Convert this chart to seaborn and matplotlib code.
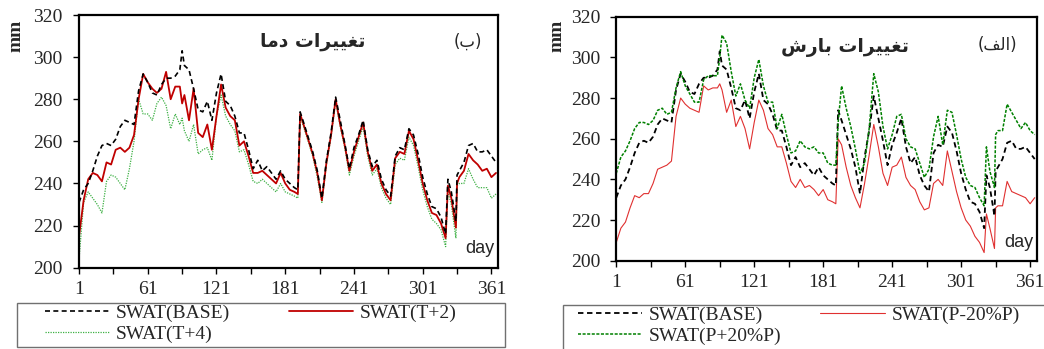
import matplotlib
matplotlib.use("Agg")
import matplotlib.pyplot as plt
import seaborn as sns
from matplotlib.patches import Rectangle
from matplotlib.ticker import FixedLocator

# ---------------- data ----------------
days = [1, 5, 9, 13, 17, 21, 25, 29, 33, 37, 41, 45, 49, 53, 57, 61, 65, 69, 73, 77,
        81, 85, 89, 91, 93, 97, 101, 105, 109, 113, 117, 121, 125, 129, 133, 137, 141,
        145, 149, 153, 157, 161, 165, 169, 173, 177, 181, 185, 189, 192, 194, 197, 201,
        205, 209, 213, 217, 221, 225, 229, 233, 237, 241, 245, 249, 253, 257, 261, 265,
        269, 273, 277, 281, 285, 289, 293, 297, 301, 305, 309, 313, 317, 321, 323, 326,
        330, 331, 333, 337, 341, 345, 349, 353, 357, 361, 365]

swat_base = [231, 237, 240, 246, 253, 258, 259, 258, 261, 267, 270, 269, 268, 284, 292, 288,
             283, 282, 287, 290, 290, 291, 294, 303, 296, 294, 285, 275, 274, 279, 270, 283,
             292, 279, 277, 272, 264, 264, 256, 247, 251, 246, 248, 245, 242, 246, 242, 240,
             238, 237, 274, 269, 262, 255, 246, 233, 251, 264, 281, 270, 259, 247, 257, 263,
             270, 256, 248, 251, 242, 237, 234, 253, 257, 256, 266, 263, 254, 243, 235, 229,
             228, 224, 216, 242, 236, 222, 244, 246, 250, 258, 259, 255, 255, 256, 253, 250]

swat_t2 = [215, 232, 242, 245, 244, 241, 250, 249, 256, 257, 255, 257, 263, 280, 292, 288,
           285, 283, 285, 293, 280, 286, 286, 278, 282, 270, 285, 264, 262, 268, 256, 272,
           287, 276, 272, 270, 258, 260, 253, 245, 245, 246, 244, 242, 240, 245, 240, 237,
           236, 235, 273, 268, 261, 254, 245, 232, 250, 263, 280, 268, 258, 246, 255, 262,
           269, 255, 246, 249, 240, 235, 232, 252, 255, 254, 265, 261, 251, 240, 232, 226,
           225, 221, 214, 239, 233, 219, 240, 243, 246, 254, 251, 249, 246, 247, 243, 245]

swat_t4 = [204, 231, 236, 233, 230, 226, 241, 244, 243, 240, 237, 247, 260, 280, 273, 273,
           270, 278, 281, 277, 266, 273, 268, 271, 265, 260, 268, 254, 256, 257, 251, 272,
           282, 272, 268, 265, 255, 256, 249, 241, 240, 242, 240, 238, 236, 240, 236, 235,
           234, 233, 272, 267, 260, 253, 243, 231, 249, 262, 279, 267, 257, 244, 253, 260,
           267, 253, 244, 247, 238, 233, 230, 249, 252, 251, 262, 258, 248, 237, 229, 223,
           221, 218, 210, 236, 230, 214, 239, 240, 240, 247, 242, 238, 238, 238, 233, 235]

swat_p_minus = [209, 216, 219, 226, 232, 231, 233, 233, 238, 245, 246, 247, 249, 271, 280, 277,
                275, 274, 273, 286, 284, 285, 285, 287, 284, 273, 279, 266, 271, 265, 255, 268,
                279, 274, 265, 262, 256, 256, 248, 239, 236, 240, 236, 237, 235, 232, 235, 230,
                229, 228, 260, 257, 246, 237, 231, 226, 238, 252, 267, 256, 243, 237, 246, 247,
                251, 241, 237, 235, 229, 225, 226, 238, 240, 237, 254, 244, 234, 226, 220, 217,
                212, 209, 204, 223, 216, 206, 226, 227, 227, 239, 234, 233, 232, 231, 228, 231]

swat_p_plus = [243, 251, 254, 259, 265, 268, 268, 267, 269, 274, 275, 272, 273, 285, 293, 286,
               282, 278, 278, 289, 291, 291, 291, 300, 311, 307, 293, 281, 287, 279, 275, 290,
               299, 286, 278, 278, 265, 272, 262, 253, 254, 259, 256, 255, 256, 253, 253, 248,
               247, 247, 268, 286, 275, 266, 255, 243, 248, 265, 292, 283, 266, 255, 262, 271,
               272, 260, 256, 255, 248, 241, 245, 261, 271, 257, 274, 273, 262, 250, 241, 237,
               236, 231, 227, 256, 244, 236, 262, 264, 264, 277, 273, 269, 265, 268, 264, 262]

x_major = [1, 61, 121, 181, 241, 301, 361]
x_minor = [31, 91, 151, 211, 271, 331]
y_ticks = [200, 220, 240, 260, 280, 300, 320]

labels_left = ["SWAT(BASE)", "SWAT(T+2)", "SWAT(T+4)"]
labels_right = ["SWAT(BASE)", "SWAT(P-20%P)", "SWAT(P+20%P)"]

# Persian titles (presentation forms, visual order)
title_left = "\uFE8E\uFEE3\uFEA9 \uFE95\uFE8D\uFEAE\uFEF4\uFEF4\uFED0\uFE97"      # تغییرات دما
title_right = "\uFEB5\uFEAD\uFE8E\uFE91 \uFE95\uFE8D\uFEAE\uFEF4\uFEF4\uFED0\uFE97"  # تغییرات بارش
tag_left = "(\uFE8F)"              # (ب)
tag_right = "(\uFED2\uFEDF\uFE8D)"  # (الف)

# ---------------- style ----------------
sns.set_theme(style="white")
plt.rcParams['font.family'] = ['Liberation Serif', 'DejaVu Sans']

FS = 14
fig = plt.figure(figsize=(10.44, 3.49), dpi=100)
axL = fig.add_axes([0.0757, 0.233, 0.4016, 0.724])
axR = fig.add_axes([0.5903, 0.253, 0.403, 0.699])

# left panel: temperature change
sns.lineplot(x=days, y=swat_t4, ax=axL, color="#3cb043", lw=0.9,
             linestyle=(0, (1, 1)), label=labels_left[2], legend=False)
sns.lineplot(x=days, y=swat_t2, ax=axL, color="#c00000", lw=1.3,
             linestyle="-", label=labels_left[1], legend=False)
sns.lineplot(x=days, y=swat_base, ax=axL, color="black", lw=1.2,
             linestyle=(0, (3, 2)), label=labels_left[0], legend=False)

# right panel: precipitation change
sns.lineplot(x=days, y=swat_p_minus, ax=axR, color="#e03030", lw=0.8,
             linestyle="-", label=labels_right[1], legend=False)
sns.lineplot(x=days, y=swat_base, ax=axR, color="black", lw=1.3,
             linestyle=(0, (3, 2)), label=labels_right[0], legend=False)
sns.lineplot(x=days, y=swat_p_plus, ax=axR, color="#008000", lw=1.1,
             linestyle=(0, (2, 1)), label=labels_right[2], legend=False)

for ax, xpad, ypad in ((axL, 5.5, 8), (axR, 5.5, 7.5)):
    ax.set_xlim(1, 367)
    ax.set_ylim(200, 320)
    ax.xaxis.set_major_locator(FixedLocator(x_major))
    ax.xaxis.set_minor_locator(FixedLocator(x_minor))
    ax.yaxis.set_major_locator(FixedLocator(y_ticks))
    ax.set_xlabel("")
    ax.set_ylabel("")
    ax.grid(False)
    for sp in ax.spines.values():
        sp.set_visible(True)
        sp.set_color("black")
        sp.set_linewidth(1.6)
    ax.tick_params(axis="both", which="both", direction="out", length=4, width=1,
                   color="black", bottom=True, left=True, top=False, right=False)
    ax.tick_params(axis="x", which="major", labelsize=FS, pad=xpad)
    ax.tick_params(axis="y", which="major", labelsize=FS, pad=ypad)
    for lab in ax.get_xticklabels() + ax.get_yticklabels():
        lab.set_fontfamily("Liberation Serif")
    ax.text(0.957, 0.074, "day", transform=ax.transAxes, ha="center", va="center",
            fontsize=13, family="Liberation Sans")

axL.text(0.558, 0.897, title_left, transform=axL.transAxes, ha="center", va="center",
         fontsize=13.5, fontweight="bold", family="DejaVu Sans")
axL.text(0.928, 0.893, tag_left, transform=axL.transAxes, ha="center", va="center",
         fontsize=12, family="DejaVu Sans")
axR.text(0.5436, 0.872, title_right, transform=axR.transAxes, ha="center", va="center",
         fontsize=13.5, fontweight="bold", family="DejaVu Sans")
axR.text(0.907, 0.884, tag_right, transform=axR.transAxes, ha="center", va="center",
         fontsize=12, family="DejaVu Sans")

fig.text(16 / 1044, 1 - 36 / 349, "mm", rotation=90, ha="center", va="center",
         fontsize=14, fontweight="bold", family="Liberation Serif")
fig.text(557 / 1044, 1 - 36 / 349, "mm", rotation=90, ha="center", va="center",
         fontsize=14, fontweight="bold", family="Liberation Serif")

# legends (row-major order: BASE, second ; third)
def make_legend(ax, labels, x_px, top_px, colsp):
    h, l = ax.get_legend_handles_labels()
    d = dict(zip(l, h))
    order = [labels[0], labels[2], labels[1]]
    leg = ax.legend([d[k] for k in order], order, ncol=2, loc="upper left",
                    bbox_to_anchor=(x_px / 1044, 1 - top_px / 349),
                    bbox_transform=fig.transFigure, frameon=False, borderpad=0,
                    borderaxespad=0, handlelength=3.3, handletextpad=0.35,
                    columnspacing=colsp, labelspacing=0.2,
                    prop={"family": "Liberation Serif", "size": FS})
    return leg

make_legend(axL, labels_left, 45, 304, 3.0)
make_legend(axR, labels_right, 578, 306, 2.0)

# legend frames
fig.add_artist(Rectangle((17 / 1044, 2 / 349), 488 / 1044, 44 / 349,
                         transform=fig.transFigure, fill=False, edgecolor="#707070", lw=1))
fig.add_artist(Rectangle((563 / 1044, -10 / 349), 500 / 1044, 54 / 349,
                         transform=fig.transFigure, fill=False, edgecolor="#707070", lw=1))

fig.savefig("out.png", dpi=100)
